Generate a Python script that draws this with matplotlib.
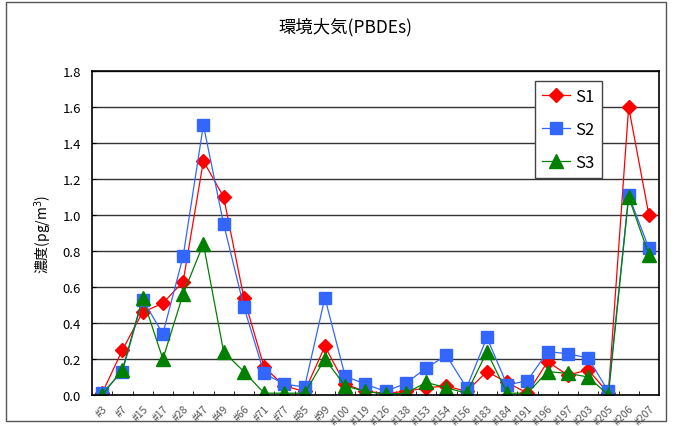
import matplotlib
matplotlib.use("Agg")
import matplotlib.pyplot as plt
from matplotlib.patches import Rectangle
from matplotlib.ticker import MultipleLocator, FixedLocator

plt.rcParams["font.family"] = ["Noto Sans CJK JP", "DejaVu Sans"]

congeners = ["#3", "#7", "#15", "#17", "#28", "#47", "#49", "#66", "#71", "#77",
             "#85", "#99", "#100", "#119", "#126", "#138", "#153", "#154", "#156",
             "#183", "#184", "#191", "#196", "#197", "#203", "#205", "#206", "#207"]

s1 = [0.01, 0.25, 0.46, 0.51, 0.63, 1.30, 1.10, 0.54, 0.155, 0.05,
      0.02, 0.27, 0.06, 0.02, 0.01, 0.02, 0.04, 0.05, 0.02,
      0.13, 0.07, 0.01, 0.185, 0.11, 0.14, 0.01, 1.60, 1.00]
s2 = [0.01, 0.13, 0.53, 0.34, 0.77, 1.50, 0.95, 0.49, 0.12, 0.06,
      0.045, 0.54, 0.105, 0.06, 0.02, 0.065, 0.15, 0.22, 0.04,
      0.32, 0.055, 0.08, 0.24, 0.23, 0.205, 0.02, 1.11, 0.815]
s3 = [0.0, 0.14, 0.54, 0.20, 0.56, 0.84, 0.24, 0.13, 0.01, 0.01,
      0.01, 0.20, 0.05, 0.02, 0.005, 0.01, 0.07, 0.04, 0.01,
      0.24, 0.01, 0.01, 0.13, 0.12, 0.10, 0.0, 1.10, 0.78]

fig = plt.figure(figsize=(6.78, 4.27), dpi=100)
ax = fig.add_axes([0.1357, 0.0726, 0.8363, 0.7588])

x = range(len(congeners))
ax.plot(x, s1, color="#FF0000", lw=0.9, marker="D", markersize=7, label="S1")
ax.plot(x, s2, color="#3366FF", lw=0.9, marker="s", markersize=9, label="S2")
ax.plot(x, s3, color="#008000", lw=0.9, marker="^", markersize=10, label="S3")

ax.set_xlim(-0.5, len(congeners) - 0.5)
ax.set_ylim(0, 1.8)
ax.yaxis.set_major_locator(MultipleLocator(0.2))
ax.yaxis.set_major_formatter(matplotlib.ticker.FormatStrFormatter("%.1f"))
ax.grid(axis="y", color="#333333", lw=1.0)
ax.set_axisbelow(True)

ax.set_xticks(list(x))
ax.set_xticklabels(congeners, rotation=45, ha="right", rotation_mode="anchor",
                   fontsize=7.5, color="#555555")
ax.xaxis.set_minor_locator(FixedLocator([i + 0.5 for i in range(len(congeners) - 1)]))
ax.tick_params(axis="x", which="major", length=0, pad=6)
ax.tick_params(axis="x", which="minor", direction="in", length=3)
ax.tick_params(axis="y", direction="in", length=3, labelsize=9.5, pad=8)
for sp in ax.spines.values():
    sp.set_linewidth(1.2)
    sp.set_color("black")

ax.set_ylabel("濃度(pg/m$^{3}$)", fontsize=10, labelpad=6)
fig.text(0.509, 0.937, "環境大気(PBDEs)", ha="center", va="center", fontsize=12.5)

leg = ax.legend(loc="upper right", bbox_to_anchor=(0.9, 0.97), fontsize=12,
                handlelength=1.7, handletextpad=0.3, fancybox=False, framealpha=1,
                edgecolor="#444444", labelspacing=0.95, borderpad=0.45,
                borderaxespad=0)
leg.get_frame().set_linewidth(1.0)

fig.patches.append(Rectangle((6 / 678, 1 - 422 / 427), 660 / 678, 419 / 427,
                             transform=fig.transFigure, fill=False,
                             edgecolor="#555555", lw=1.0))

fig.savefig("out.png", dpi=100)
